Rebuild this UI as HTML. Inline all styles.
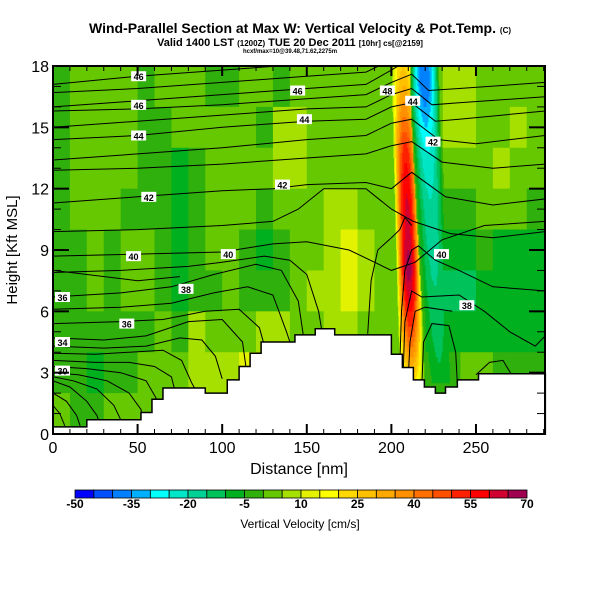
<!DOCTYPE html>
<html><head><meta charset="utf-8"><style>
html,body{margin:0;padding:0;background:#fff;}
svg{display:block;font-family:"Liberation Sans",sans-serif;}
</style></head><body>
<svg id="chart" width="600" height="600" viewBox="0 0 600 600" xmlns="http://www.w3.org/2000/svg">
<text x="300" y="33" text-anchor="middle" font-size="14" font-weight="bold">Wind-Parallel Section at Max W: Vertical Velocity &amp; Pot.Temp. <tspan font-size="8">(C)</tspan></text>
<text x="290" y="46" text-anchor="middle" font-size="11" font-weight="bold">Valid 1400 LST <tspan font-size="8">(1200Z)</tspan> TUE 20 Dec 2011 <tspan font-size="8">[10hr] cs[@2159]</tspan></text>
<text x="290" y="53" text-anchor="middle" font-size="6" font-weight="bold">hcxf/max=10@39.48,71.62,2275m</text>
<defs><clipPath id="plotclip"><rect x="53" y="66" width="492" height="368"/></clipPath></defs>
<g id="field" clip-path="url(#plotclip)"></g>
<g id="contours" clip-path="url(#plotclip)"></g>
<g id="terrain"></g>
<g id="clabels"></g>
<rect x="53" y="66" width="492" height="368" fill="none" stroke="#000" stroke-width="2"/>
<g id="axes"></g>
<text x="17" y="250" transform="rotate(-90 17 250)" text-anchor="middle" font-size="15">Height [Kft MSL]</text>
<text x="299" y="474" text-anchor="middle" font-size="16">Distance [nm]</text>
<g id="colorbar"></g>
<text x="300" y="528" text-anchor="middle" font-size="12">Vertical Velocity [cm/s]</text>
</svg>
<script>
// ---- data ----
const colorLevels = [-50,-45,-40,-35,-30,-25,-20,-15,-10,-5,0,5,10,15,20,25,30,35,40,45,50,55,60,65,70];
const colorTickLabels = [-50,-35,-20,-5,10,25,40,55,70];
const xTicks = [0,50,100,150,200,250];
const yTicks = [0,3,6,9,12,15,18];
// background field rows (top = 16-18 kft ... bottom = 0-2 kft), columns every 10 nm from 0
const rowBottoms = [16,14,12,10,8,6,4,2,0];
const colStarts = [0,10,20,30,40,50,60,70,80,90,100,110,120,130,140,150,160,170,180,190,200,210,220,230,240,250,260,270,280];
const fieldRows = [
 [-2,3,3,3,3,-2,3,3,3,-2,-2,3,3,-2,3,3,3,3,3,3,3,3,3,8,8,3,3,3,3],
 [-2,3,3,3,3,-2,-2,3,3,3,3,3,-2,8,8,3,3,3,3,3,3,3,3,8,8,3,3,8,3],
 [-2,3,3,3,3,-2,-2,-7,-2,3,3,3,3,8,8,3,3,3,3,3,3,3,-2,3,3,3,8,3,3],
 [-2,3,3,3,-2,-2,-2,-7,-2,3,3,3,-2,3,3,3,8,8,3,3,3,3,-2,-2,-2,3,3,3,-2],
 [-2,-2,3,-2,3,3,-2,-7,-2,3,3,-2,-7,-2,3,3,8,12,8,3,3,-2,-7,-7,-7,-2,-7,-7,-7],
 [-2,-2,3,-2,3,3,-2,-7,-2,-2,3,-2,-2,-2,3,8,8,12,8,3,3,-2,-7,-12,-12,-7,-7,-7,-7],
 [-2,-2,-2,-2,-2,-2,3,-2,8,3,3,3,8,8,3,3,8,8,3,3,3,-2,-7,-7,-7,-7,-7,-7,-7],
 [-2,-2,-7,-2,-2,3,3,3,8,8,8,12,8,3,3,3,3,3,3,3,3,-2,-2,-2,3,3,-2,-2,-2],
 [3,-2,-2,3,3,3,3,3,3,3,3,3,3,3,3,3,3,3,3,3,3,3,3,3,3,3,3,3,3]
];
// updraft / downdraft band (per height level)
const bandKft =      [18.5,17,15.5,14,12.5,11,9.5,8,6.5,5,3.5,2.5];
const upCenterNm =   [206.5,207,207.5,208,208.5,209,209.5,210,210.5,211,211.5,212];
const upPeak =       [22,30,40,52,58,62,64,68,60,48,32,20];
const downCenterNm = [219,219.5,220,221,222,223,224,225,226,227,228,229];
const downMin =      [-38,-40,-32,-26,-22,-19,-18,-16,-14,-12,-10,-8];
// terrain outline (nm, kft)
const terrainNm =  [0,20,20,52,52,58.5,58.5,65,65,90,90,103,103,110,110,116.5,116.5,123,123,143,143,155,155,166.5,166.5,194,194,200,200,206.5,206.5,213,213,219.5,219.5,226,226,232,232,239,239,251.5,251.5,291];
const terrainKft = [0.35,0.35,0.7,0.7,1.05,1.05,1.7,1.7,2.25,2.25,2.0,2.0,2.65,2.65,3.3,3.3,3.95,3.95,4.5,4.5,4.85,4.85,5.15,5.15,4.85,4.85,4.85,4.85,3.9,3.9,3.25,3.25,2.65,2.65,2.3,2.3,2.0,2.0,2.3,2.3,2.65,2.65,2.95,2.95];
// potential temperature contours, each a list of [nm, kft]
const contourLines = [
 [[0,17.1],[50,17.5],[100,17.8],[150,18.1]],
 [[0,16.7],[50,16.9],[100,17.2],[150,17.5],[185,17.7],[200,18.3]],
 [[0,16.0],[50,16.3],[100,16.6],[150,16.9],[185,17.1],[200,17.8],[210,18.3]],
 [[0,15.8],[50,15.9],[100,16.1],[150,16.4],[185,16.6],[200,17.2],[212,17.6],[222,16.8],[240,16.9],[291,17.2]],
 [[0,15.0],[50,15.3],[100,15.6],[150,15.9],[185,16.0],[200,16.6],[212,16.9],[224,16.1],[240,16.2],[291,16.5]],
 [[0,14.4],[50,14.6],[100,15.0],[150,15.3],[185,15.4],[200,16.0],[212,16.2],[226,15.3],[240,15.4],[291,15.8]],
 [[0,13.4],[50,13.7],[100,14.0],[150,14.4],[185,14.6],[200,15.2],[212,15.4],[228,14.4],[250,14.2],[291,14.6]],
 [[0,12.9],[50,13.0],[100,13.2],[150,13.5],[185,13.7],[200,14.1],[212,14.3],[230,13.3],[260,13.0],[291,13.2]],
 [[0,11.3],[50,11.6],[100,11.9],[130,12.0],[150,12.2],[185,12.3],[200,12.0],[212,12.8],[232,11.6],[260,11.2],[291,11.5]],
 [[0,9.9],[50,10.0],[100,10.2],[130,10.4],[145,11.0],[160,12.0],[185,12.0],[200,11.0],[213,10.4],[235,9.8],[260,9.6],[291,9.9]],
 [[0,8.7],[50,8.8],[100,8.9],[130,9.3],[150,9.4],[175,9.0],[200,8.0],[214,8.4],[230,9.5],[255,10.2],[291,10.4]],
 [[0,7.9],[40,8.0],[80,8.2],[100,8.4],[125,8.7],[140,8.5],[150,7.8],[157,6.0],[160,4.5]],
 [[0,6.7],[40,6.9],[70,7.2],[95,7.8],[120,8.3],[135,8.0],[145,6.5],[148,4.8]],
 [[0,6.1],[40,6.2],[70,6.4],[95,6.9],[115,7.2],[130,6.8],[138,5.0],[140,4.5]],
 [[0,5.4],[40,5.5],[65,5.6],[90,6.0],[110,6.1],[122,5.2],[126,4.0]],
 [[0,4.7],[30,4.6],[55,4.8],[80,5.5],[100,5.6],[112,4.5],[114,3.3]],
 [[0,4.3],[30,4.2],[55,4.3],[75,4.7],[88,4.6],[96,3.8],[100,2.7]],
 [[0,3.95],[25,3.9],[45,4.0],[65,4.1],[76,3.6],[82,2.5],[84,2.2]],
 [[0,3.6],[25,3.5],[45,3.5],[60,3.3],[70,2.8],[74,1.5],[75,1.0]],
 [[0,3.3],[20,3.2],[40,3.0],[55,2.6],[62,1.6],[64,1.0]],
 [[0,3.0],[15,2.9],[32,2.6],[45,2.0],[52,1.2],[53,0.7]],
 [[0,2.8],[12,2.6],[26,2.2],[36,1.4],[40,0.7]],
 [[0,2.6],[10,2.3],[20,1.6],[26,0.9],[28,0.4]],
 [[0,2.0],[8,1.6],[14,0.9],[16,0.4]],
 [[0,1.4],[4,1.0],[7,0.4]],
 [[0,8.0],[50,7.5],[75,7.7]],
 [[186,4.9],[188,7.5],[192,9.0],[200,9.6],[205,10.0],[208,10.6],[212,10.2]],
 [[205,3.4],[206,6.0],[208,8.0],[212,9.0],[216,9.2],[226,8.5],[240,8.0],[260,7.2],[291,7.0]],
 [[207,3.0],[208,5.5],[212,7.0],[218,6.7],[240,6.8],[255,6.0],[270,5.0],[285,4.3],[291,4.8]],
 [[210,2.8],[211,4.5],[214,6.0],[220,6.2],[236,6.0]],
 [[218,2.3],[219,4.5],[224,5.4],[234,5.3],[238,4.0],[239,2.4]],
 [[250,2.9],[258,3.5],[266,3.6],[271,2.9]]
];
const contourLabelText = ["46","46","44","42","40","38","36","36","34","30","46","44","42","40","48","44","42","40","38"];
const contourLabelNm =   [45,45,45,51,42,73,0,38,0,0,139,143,130,98,192,207,219,224,239];
const contourLabelKft =  [17.5,16.1,14.6,11.6,8.7,7.1,6.7,5.4,4.5,3.1,16.8,15.4,12.2,8.8,16.8,16.3,14.3,8.8,6.3];

// ---- helpers ----
const NS = "http://www.w3.org/2000/svg";
const X = nm => 53 + nm * (492 / 290.8);
const Y = k => 434 - k * (368 / 18);
const palette = ["#0000ff","#0050ff","#0080ff","#00b0ff","#00ffff","#00e6c8","#00d296","#00c25a","#00b01e","#30b00c","#66c800","#a6e000","#e2f200","#ffff00","#ffd800","#ffc000","#ffa800","#ff9000","#ff7000","#ff5000","#ff2000","#ff0000","#d00030","#a00050"];
function colorOf(v){
  for (let i = 0; i < colorLevels.length - 1; i++) if (v < colorLevels[i+1]) return palette[Math.max(i,0)];
  return palette[palette.length-1];
}
function mk(tag, attrs, parent){
  const e = document.createElementNS(NS, tag);
  for (const k in attrs) e.setAttribute(k, attrs[k]);
  parent.appendChild(e); return e;
}
const field = document.getElementById("field");
// background cells
fieldRows.forEach((row, r) => {
  row.forEach((v, c) => {
    const x0 = X(colStarts[c]), x1 = X(colStarts[c] + 10);
    const y1 = Y(rowBottoms[r]), y0 = Y(rowBottoms[r] + 2);
    const el = mk("rect", {x:x0, y:y0, width:x1-x0+0.5, height:y1-y0+0.5, fill:colorOf(v)}, field);
    
    
  });
});
// band cells (fine resolution)
function bgAt(nm, k){
  let r = rowBottoms.findIndex(b => k >= b); if (r < 0) r = rowBottoms.length-1;
  let c = Math.min(Math.floor(nm/10), colStarts.length-1);
  return fieldRows[r][c];
}
for (let i = 0; i < bandKft.length - 1; i++) {
  const kTop = bandKft[i], kBot = bandKft[i+1];
  const subs = 6;
  for (let s = 0; s < subs; s++) {
    const t = (s + 0.5) / subs;
    const k = kTop + (kBot - kTop) * t;
    const uc = upCenterNm[i] + (upCenterNm[i+1]-upCenterNm[i]) * t;
    const up = upPeak[i] + (upPeak[i+1]-upPeak[i]) * t;
    const dc = downCenterNm[i] + (downCenterNm[i+1]-downCenterNm[i]) * t;
    const dn = downMin[i] + (downMin[i+1]-downMin[i]) * t;
    for (let nm = 195; nm < 240; nm += 0.6) {
      const du = (nm - uc) / 7.5, dd = (nm - dc) / 8.5;
      let v = bgAt(nm, k);
      if (Math.abs(du) < 1) { const uv = up * (1 - du*du); if (uv > v) v = uv; }
      if (Math.abs(dd) < 1) { const dv = dn * (1 - dd*dd); if (dv < v) v = dv; }
      const ya = Y(kTop + (kBot-kTop)*s/subs), yb = Y(kTop + (kBot-kTop)*(s+1)/subs);
      const el = mk("rect", {x:X(nm), y:ya, width:X(0.6)-X(0)+0.3, height:yb-ya+0.3, fill:colorOf(v)}, field);
      
      
    }
  }
}
// terrain
const tg = document.getElementById("terrain");
let tp = "M" + X(0) + "," + Y(0);
terrainNm.forEach((n, i) => { tp += " L" + X(n) + "," + Y(terrainKft[i]); });
tp += " L" + X(291) + "," + Y(0) + " Z";
const terr = mk("path", {d:tp, fill:"#fff", stroke:"#000", "stroke-width":1.5}, tg);


// contours
const cg = document.getElementById("contours");
contourLines.forEach(line => {
  const d = line.map((p, i) => (i ? "L" : "M") + X(p[0]).toFixed(1) + "," + Y(p[1]).toFixed(1)).join(" ");
  const el = mk("path", {d:d, fill:"none", stroke:"#000", "stroke-width":1}, cg);
  
  
});
const lg = document.getElementById("clabels");
contourLabelText.forEach((t, i) => {
  const x = X(contourLabelNm[i]) + 2, y = Y(contourLabelKft[i]);
  const r = mk("rect", {x:x, y:y-5, width:15, height:10, fill:"#fff"}, lg);
  
  
  const tx = mk("text", {x:x+7.5, y:y+4, "text-anchor":"middle", "font-size":9, "font-weight":"bold"}, lg);
  tx.textContent = t;
  
  
});
// axes
const ag = document.getElementById("axes");
for (let n = 0; n <= 290; n += 10) {
  const len = n % 50 === 0 ? 10 : 5;
  mk("line", {x1:X(n), x2:X(n), y1:434, y2:434-len, stroke:"#000", "stroke-width":n%50===0?2:1}, ag);
  mk("line", {x1:X(n), x2:X(n), y1:66, y2:66+len, stroke:"#000", "stroke-width":n%50===0?2:1}, ag);
}
xTicks.forEach(v => {
  const t = mk("text", {x:X(v), y:453, "text-anchor":"middle", "font-size":16}, ag);
  t.textContent = v;
  
  
});
for (let k = 0; k <= 18; k += 1) {
  const len = k % 3 === 0 ? 16 : 8;
  mk("line", {x1:53, x2:53+len, y1:Y(k), y2:Y(k), stroke:"#000", "stroke-width":k%3===0?2:1}, ag);
  mk("line", {x1:545, x2:545-len, y1:Y(k), y2:Y(k), stroke:"#000", "stroke-width":k%3===0?2:1}, ag);
}
yTicks.forEach(v => {
  const t = mk("text", {x:49, y:Y(v)+6, "text-anchor":"end", "font-size":16}, ag);
  t.textContent = v;
  
  
});
// colorbar
const cb = document.getElementById("colorbar");
const cbX0 = 75, cbW = 452 / palette.length;
palette.forEach((c, i) => {
  const r = mk("rect", {x:cbX0 + i*cbW, y:490, width:cbW, height:8, fill:c, stroke:"#000", "stroke-width":0.8}, cb);
  
  
});
colorTickLabels.forEach(v => {
  const i = colorLevels.indexOf(v);
  const t = mk("text", {x:cbX0 + i*cbW, y:508, "text-anchor":"middle", "font-size":12, "font-weight":"bold"}, cb);
  t.textContent = v;
  
  
});
</script>
</body></html>
